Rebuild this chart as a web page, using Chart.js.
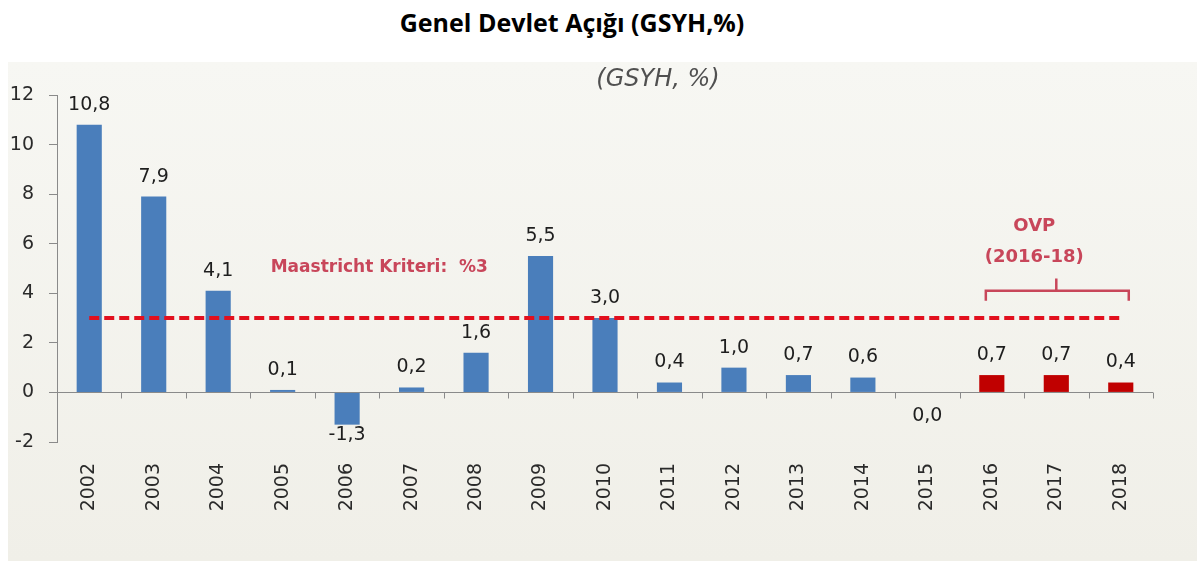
<!DOCTYPE html>
<html>
<head>
<meta charset="utf-8">
<script src="https://cdn.jsdelivr.net/npm/chart.js@4/dist/chart.umd.min.js"></script>
<style>
  body { margin: 0; background: #fff; width: 1201px; height: 561px; overflow: hidden; position: relative; }
  #title { position: absolute; left: 0; top: 5px; width: 1144px; text-align: center;
           font: bold 25px "Open Sans", sans-serif; color: #000; }
  #panel { position: absolute; left: 8px; top: 62px; width: 1189px; height: 499px;
           background: linear-gradient(#f7f7f3, #f0efe8); }
</style>
</head>
<body>
<div id="title">Genel Devlet Açığı (GSYH,%)</div>
<div id="panel"><canvas id="myChart" width="1189" height="499"></canvas></div>
<script>
// data
let years = ["2002", "2003", "2004", "2005", "2006", "2007", "2008", "2009", "2010", "2011", "2012", "2013", "2014", "2015", "2016", "2017", "2018"];
let deficit = [10.8, 7.9, 4.1, 0.1, -1.3, 0.2, 1.6, 5.5, 3.0, 0.4, 1.0, 0.7, 0.6, 0.0, 0.7, 0.7, 0.4];
let maastricht = [3, 3, 3, 3, 3, 3, 3, 3, 3, 3, 3, 3, 3, 3, 3, 3, 3];
let yTicks = [-2, 0, 2, 4, 6, 8, 10, 12];
let firstPlanYear = "2016";

let planIndex = years.indexOf(firstPlanYear);
let barColors = years.map((y, i) => i >= planIndex ? "#c00000" : "#4a7ebb");

let ctx = document.querySelector("#myChart");

// zero line with small ticks between categories
let zeroAxis = {
    id: "zeroAxis",
    beforeDatasetsDraw(chart) {
        let c = chart.ctx, x = chart.scales.x, y = chart.scales.y;
        let y0 = Math.round(y.getPixelForValue(0)) + 0.5;
        c.save();
        c.strokeStyle = "#8a8a8a";
        c.lineWidth = 1;
        c.beginPath();
        c.moveTo(x.left, y0);
        c.lineTo(x.right, y0);
        let step = (x.right - x.left) / years.length;
        for (let i = 1; i <= years.length; i++) {
            let px = Math.round(x.left + step * i) + 0.5;
            c.moveTo(px, y0);
            c.lineTo(px, y0 + 6);
        }
        c.stroke();
        c.restore();
    }
};

// value labels + notes
let labelsNotes = {
    id: "labelsNotes",
    afterDatasetsDraw(chart) {
        let c = chart.ctx, x = chart.scales.x, y = chart.scales.y;
        let meta = chart.getDatasetMeta(0);
        let y0 = y.getPixelForValue(0);
        c.save();
        c.font = "19px 'DejaVu Sans', sans-serif";
        c.fillStyle = "#1e1e1e";
        c.textAlign = "center";
        c.textBaseline = "middle";
        meta.data.forEach((bar, i) => {
            let v = deficit[i];
            let txt = v.toFixed(1).replace(".", ",");
            let ty = v > 0 ? bar.y - 20 : Math.max(bar.y + 10, y0 + 24);
            c.fillText(txt, bar.x, ty);
        });

        // subtitle
        c.font = "italic 24px 'DejaVu Sans', sans-serif";
        c.fillStyle = "#505050";
        c.fillText("(GSYH, %)", 650, 18);

        // Maastricht
        c.font = "bold 17px 'DejaVu Sans', sans-serif";
        c.fillStyle = "#c8465a";
        c.textAlign = "left";
        c.fillText("Maastricht Kriteri:  %3", x.getPixelForValue(3) - 12, y.getPixelForValue(5.05));

        // OVP bracket
        let cx = x.getPixelForValue(planIndex + 1);
        c.textAlign = "center";
        c.font = "bold 18px 'DejaVu Sans', sans-serif";
        c.fillText("OVP", cx - 22, y.getPixelForValue(6.7));
        c.fillText("(2016-18)", cx - 22, y.getPixelForValue(5.45));
        let bl = x.getPixelForValue(planIndex) - 6;
        let br = x.getPixelForValue(years.length - 1) + 8;
        let by = y.getPixelForValue(4.1);
        c.strokeStyle = "#c8465a";
        c.lineWidth = 2.5;
        c.beginPath();
        c.moveTo(bl, y.getPixelForValue(3.7));
        c.lineTo(bl, by);
        c.lineTo(br, by);
        c.lineTo(br, y.getPixelForValue(3.7));
        c.moveTo(cx, by);
        c.lineTo(cx, y.getPixelForValue(4.6));
        c.stroke();
        c.restore();
    }
};

new Chart(ctx, {
    type: "bar",
    data: {
        labels: years,
        datasets: [{
            label: "Açık",
            data: deficit,
            backgroundColor: barColors,
            borderWidth: 0,
            barPercentage: 0.39,
            categoryPercentage: 1,
            order: 2
        }, {
            type: "line",
            label: "Maastricht",
            data: maastricht,
            borderColor: "#e2101e",
            borderWidth: 4,
            borderDash: [10, 5],
            pointRadius: 0,
            fill: false,
            order: 1
        }]
    },
    options: {
        responsive: false,
        animation: false,
        layout: { padding: { top: 33, right: 44, bottom: 0, left: 0 } },
        plugins: {
            legend: { display: false },
            tooltip: { enabled: false }
        },
        scales: {
            x: {
                grid: { display: false },
                border: { display: false },
                ticks: {
                    minRotation: 90,
                    maxRotation: 90,
                    padding: 13,
                    color: "#2a2a2a",
                    font: { family: "'DejaVu Sans', sans-serif", size: 19 }
                },
                afterFit(scale) { scale.height = 119; }
            },
            y: {
                min: -2,
                max: 12,
                afterBuildTicks(scale) { scale.ticks = yTicks.map(v => ({ value: v })); },
                grid: { drawOnChartArea: false, drawTicks: true, tickLength: 8, color: "#8a8a8a" },
                border: { display: true, color: "#8a8a8a" },
                ticks: {
                    padding: 15,
                    color: "#2a2a2a",
                    font: { family: "'DejaVu Sans', sans-serif", size: 19 }
                },
                afterFit(scale) { scale.width = 49; }
            }
        }
    },
    plugins: [zeroAxis, labelsNotes]
});
</script>
</body>
</html>
